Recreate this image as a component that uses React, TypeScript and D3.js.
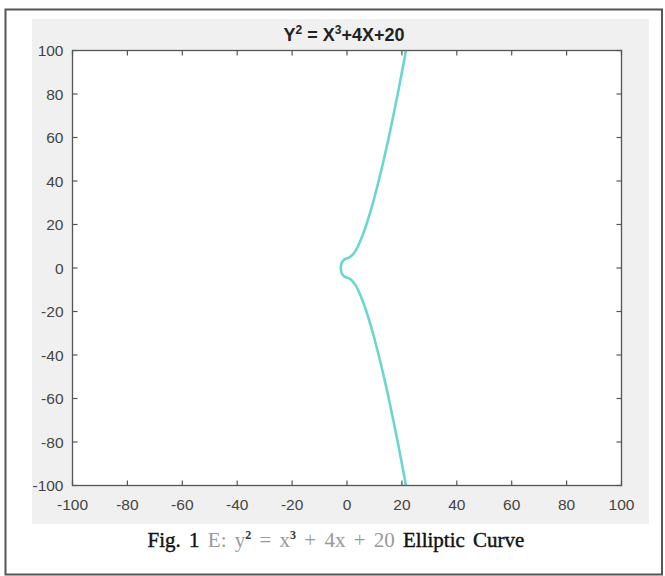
import React from "react"
import * as d3 from "d3"

// points, bottom to top
const curveY = [-100, -90, -80, -70, -60, -50, -40, -30, -20, -15, -10, -8, -6, -5, -4.5, -4, -3.5, -3, -2.5, -2, -1.5, -1, -0.5, 0, 0.5, 1, 1.5, 2, 2.5, 3, 3.5, 4, 4.5, 5, 6, 8, 10, 15, 20, 30, 40, 50, 60, 70, 80, 90, 100]
const curveX = [21.47, 20.0, 18.48, 16.88, 15.21, 13.44, 11.53, 9.45, 7.07, 5.67, 4.0, 3.16, 2.0, 1.0, 0.06, -0.85, -1.34, -1.64, -1.85, -2.0, -2.11, -2.18, -2.22, -2.23, -2.22, -2.18, -2.11, -2.0, -1.85, -1.64, -1.34, -0.85, 0.06, 1.0, 2.0, 3.16, 4.0, 5.67, 7.07, 9.45, 11.53, 13.44, 15.21, 16.88, 18.48, 20.0, 21.47]

const xTicks = [-100, -80, -60, -40, -20, 0, 20, 40, 60, 80, 100]
const yTicks = [-100, -80, -60, -40, -20, 0, 20, 40, 60, 80, 100]

const App = () => {
  const width = 665
  const height = 576
  const left = 72.5
  const right = 621.5
  const top = 50.5
  const bottom = 485.5
  const tickLen = 5
  const axisColor = "#555"
  const labelFont = "Liberation Sans, Arial, sans-serif"

  const xScale = d3.scaleLinear().domain([-100, 100]).range([left, right])
  const yScale = d3.scaleLinear().domain([-100, 100]).range([bottom, top])

  const line = d3
    .line<number>()
    .x((d, i) => xScale(curveX[i]))
    .y((d) => yScale(d))
    .curve(d3.curveCatmullRom)

  return (
    <svg
      width={width}
      height={height}
      style={{ position: "absolute", left: 0, top: 0, background: "#fff" }}
    >
      <rect x={5.5} y={9.5} width={656.5} height={565} fill="#fff" stroke="#555" strokeWidth={2} />
      <rect x={32} y={19} width={617} height={505} fill="#f0f0f0" />
      <rect x={left} y={top} width={right - left} height={bottom - top} fill="#fff" />

      <path d={line(curveY) || ""} fill="none" stroke="#6ad6d0" strokeWidth={2.6} />

      <rect x={left} y={top} width={right - left} height={bottom - top} fill="none" stroke={axisColor} strokeWidth={1.3} />

      {xTicks.map((t) => (
        <g key={"x" + t}>
          <line x1={xScale(t)} x2={xScale(t)} y1={bottom} y2={bottom - tickLen} stroke={axisColor} strokeWidth={1.2} />
          <line x1={xScale(t)} x2={xScale(t)} y1={top} y2={top + tickLen} stroke={axisColor} strokeWidth={1.2} />
          <text
            x={xScale(t)}
            y={bottom + 24}
            textAnchor="middle"
            fontFamily={labelFont}
            fontSize={15.5}
            fill="#444"
          >
            {t}
          </text>
        </g>
      ))}

      {yTicks.map((t) => (
        <g key={"y" + t}>
          <line x1={left} x2={left + tickLen} y1={yScale(t)} y2={yScale(t)} stroke={axisColor} strokeWidth={1.2} />
          <line x1={right} x2={right - tickLen} y1={yScale(t)} y2={yScale(t)} stroke={axisColor} strokeWidth={1.2} />
          <text
            x={left - 9}
            y={yScale(t) + 5.5}
            textAnchor="end"
            fontFamily={labelFont}
            fontSize={15.5}
            fill="#444"
          >
            {t}
          </text>
        </g>
      ))}

      <text
        x={344}
        y={41}
        textAnchor="middle"
        fontFamily={labelFont}
        fontWeight="bold"
        fontSize={18}
        fill="#222"
      >
        Y<tspan fontSize={12} dy={-7}>2</tspan>
        <tspan dy={7}> = X</tspan>
        <tspan fontSize={12} dy={-7}>3</tspan>
        <tspan dy={7}>+4X+20</tspan>
      </text>

      <text
        x={336}
        y={547}
        textAnchor="middle"
        fontFamily="Liberation Serif, Times New Roman, serif"
        fontSize={21}
        wordSpacing={3}
        fill="#111"
      >
        <tspan stroke="#111" strokeWidth={0.4}>Fig.  1 </tspan>
        <tspan fill="#999">E: y</tspan>
        <tspan fontSize={12} dy={-8} fill="#333" fontWeight="bold">2</tspan>
        <tspan dy={8} fill="#999"> =  x</tspan>
        <tspan fontSize={12} dy={-8} fill="#333" fontWeight="bold">3</tspan>
        <tspan dy={8} fill="#999"> + 4x + 20 </tspan>
        <tspan stroke="#111" strokeWidth={0.4}>Elliptic Curve</tspan>
      </text>
    </svg>
  )
}

export default App
